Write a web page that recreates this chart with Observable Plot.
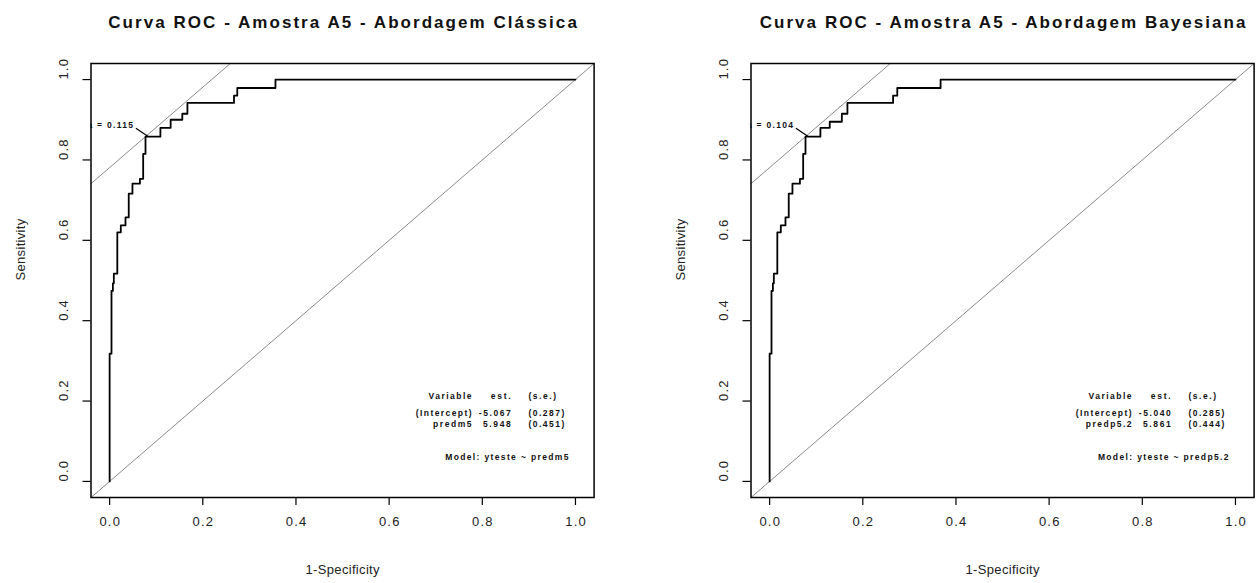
<!DOCTYPE html>
<html><head><meta charset="utf-8">
<script src="https://cdn.jsdelivr.net/npm/d3@7"></script>
<script src="https://cdn.jsdelivr.net/npm/@observablehq/plot@0.6"></script>
<style>
html,body{margin:0;padding:0;background:#fff}
body{width:1258px;height:583px;overflow:hidden;position:relative;font-family:"Liberation Sans",Arial,sans-serif}
.panel{position:absolute;top:0}
</style></head><body>
<div id="left" class="panel" style="left:0px"></div>
<div id="right" class="panel" style="left:660px"></div>
<script>
// ---------- data ----------
const titles = ["Curva ROC - Amostra A5 - Abordagem Clássica", "Curva ROC - Amostra A5 - Abordagem Bayesiana"];
const xLabel = "1-Specificity";
const yLabel = "Sensitivity";
const tickValues = [0, 0.2, 0.4, 0.6, 0.8, 1.0];
const tickLabels = ["0.0", "0.2", "0.4", "0.6", "0.8", "1.0"];

// ROC corner points (1-specificity, sensitivity) — classical model
const rocFprA  = [0, 0, 0.004, 0.007, 0.009, 0.0165, 0.024, 0.034, 0.041, 0.049, 0.065, 0.072, 0.077, 0.109, 0.131, 0.156, 0.167, 0.267, 0.274, 0.356, 1.0];
const rocSensA = [0, 0.318, 0.474, 0.493, 0.517, 0.620, 0.637, 0.657, 0.716, 0.741, 0.753, 0.815, 0.858, 0.880, 0.900, 0.915, 0.942, 0.960, 0.979, 1.0, 1.0];
// ROC corner points — Bayesian model
const rocFprB  = [0, 0, 0.004, 0.007, 0.009, 0.0165, 0.024, 0.034, 0.041, 0.049, 0.065, 0.072, 0.077, 0.109, 0.129, 0.155, 0.167, 0.265, 0.274, 0.367, 1.0];
const rocSensB = [0, 0.318, 0.474, 0.493, 0.517, 0.620, 0.637, 0.657, 0.716, 0.741, 0.753, 0.815, 0.858, 0.880, 0.895, 0.915, 0.942, 0.960, 0.979, 1.0, 1.0];

// optimal cut-off point and its label
const optFpr   = [0.077, 0.077];
const optSens  = [0.858, 0.858];
const optText  = ["lr.eta = 0.115", "lr.eta = 0.104"];
const optLabFpr  = [0.050, 0.050];
const optLabSens = [0.879, 0.879];

// model table
const tableHeader = ["Variable", "est.", "(s.e.)"];
const termNames = [["(Intercept)", "predm5"], ["(Intercept)", "predp5.2"]];
const termEst   = [["-5.067", "5.948"], ["-5.040", "5.861"]];
const termSE    = [["(0.287)", "(0.451)"], ["(0.285)", "(0.444)"]];
const modelText = ["Model: yteste ~ predm5", "Model: yteste ~ predp5.2"];
const tableColX = [0.777, 0.861, 0.899];   // col1 right, col2 right, col3 left
const tableRowY = [0.211, 0.170, 0.142];
const modelPos  = [0.985, 0.060];

// ---------- drawing ----------
const dom = [-0.04, 1.04];
const font = "Liberation Sans, Arial, sans-serif";

function panel(i, fpr, sens, width, marginRight) {
  const curve = fpr.map((x, j) => ({x, y: sens[j]}));
  const diag = dom.map(v => ({x: v, y: v}));
  const c = optSens[i] - optFpr[i];
  const tangent = dom.map(v => ({x: v, y: v + c}));
  const opt = {x: optFpr[i], y: optSens[i]};
  const lab = [{x: optLabFpr[i], y: optLabSens[i], t: optText[i]}];
  const endCells = [], startCells = [];
  endCells.push({t: tableHeader[0], x: tableColX[0], y: tableRowY[0]});
  endCells.push({t: tableHeader[1], x: tableColX[1], y: tableRowY[0]});
  startCells.push({t: tableHeader[2], x: tableColX[2], y: tableRowY[0]});
  termNames[i].forEach((n, r) => {
    endCells.push({t: n, x: tableColX[0], y: tableRowY[r + 1]});
    endCells.push({t: termEst[i][r], x: tableColX[1], y: tableRowY[r + 1]});
    startCells.push({t: termSE[i][r], x: tableColX[2], y: tableRowY[r + 1]});
  });
  const ticks = tickValues.map((v, k) => ({v, t: tickLabels[k]}));
  const tblStyle = {fontSize: 8.5, fill: "#111", fontWeight: "bold"};
  const tickStyle = {fontSize: 13, fill: "#222"};
  return Plot.plot({
    width, height: 583,
    marginLeft: 90.5, marginRight, marginTop: 63, marginBottom: 86,
    style: {fontFamily: font, background: "white", overflow: "visible"},
    x: {domain: dom, axis: null},
    y: {domain: dom, axis: null},
    marks: [
      Plot.axisX({ticks: tickValues, tickSize: 8, tickFormat: () => "", strokeWidth: 1.2, label: null}),
      Plot.axisY({ticks: tickValues, tickSize: 8, tickFormat: () => "", strokeWidth: 1.2, label: null}),
      Plot.text(ticks, {x: "v", text: "t", frameAnchor: "bottom", dy: 28, ...tickStyle}),
      Plot.text(ticks, {y: "v", text: "t", frameAnchor: "left", dx: -27, rotate: -90, ...tickStyle}),
      Plot.text([xLabel], {text: d => d, frameAnchor: "bottom", dy: 76, fontSize: 13, fill: "#222"}),
      Plot.text([yLabel], {text: d => d, frameAnchor: "left", dx: -70, rotate: -90, fontSize: 13, fill: "#222"}),
      Plot.text([titles[i]], {text: d => d, frameAnchor: "top", dy: -48, fontSize: 17, fontWeight: "bold", fill: "#111"}),
      Plot.line(diag, {x: "x", y: "y", stroke: "#8a8a8a", strokeWidth: 1, clip: true}),
      Plot.line(tangent, {x: "x", y: "y", stroke: "#8a8a8a", strokeWidth: 1, clip: true}),
      Plot.line(curve, {x: "x", y: "y", curve: "step-after", stroke: "black", strokeWidth: 1.8}),
      Plot.link(lab, {x1: "x", y1: "y", x2: () => opt.x, y2: () => opt.y, stroke: "black", strokeWidth: 1.2, dx: 3}),
      Plot.text(lab, {x: "x", y: "y", text: "t", textAnchor: "end", dy: -3, fontSize: 8.5, fill: "#111", fontWeight: "bold", clip: true}),
      Plot.text(endCells, {x: "x", y: "y", text: "t", textAnchor: "end", ...tblStyle}),
      Plot.text(startCells, {x: "x", y: "y", text: "t", textAnchor: "start", ...tblStyle}),
      Plot.text([modelText[i]], {x: () => modelPos[0], y: () => modelPos[1], text: d => d, textAnchor: "end", ...tblStyle}),
      Plot.frame({stroke: "black", strokeWidth: 1.5})
    ]
  });
}

// widen glyph spacing like the original device rendering
function spread(svg) {
  const tableTexts = new Set([...tableHeader, ...termNames.flat(), ...termEst.flat(), ...termSE.flat(), ...modelText]);
  d3.select(svg).selectAll("text").each(function () {
    const t = this.textContent;
    let sp = 0;
    if (titles.includes(t)) sp = 2.0;
    else if (tableTexts.has(t)) sp = 1.3;
    else if (optText.includes(t)) sp = 1.2;
    else if (tickLabels.includes(t)) sp = 0.8;
    else if (t === xLabel || t === yLabel) sp = 0.3;
    if (!sp || !t) return;
    const len = this.getComputedTextLength();
    this.setAttribute("textLength", (len + sp * t.length).toFixed(1));
    this.setAttribute("lengthAdjust", "spacing");
  });
}

const svgA = panel(0, rocFprA, rocSensA, 629, 35.4);
document.getElementById("left").appendChild(svgA);
const svgB = panel(1, rocFprB, rocSensB, 598, 4.4);
document.getElementById("right").appendChild(svgB);
spread(svgA);
spread(svgB);
</script>
</body></html>
